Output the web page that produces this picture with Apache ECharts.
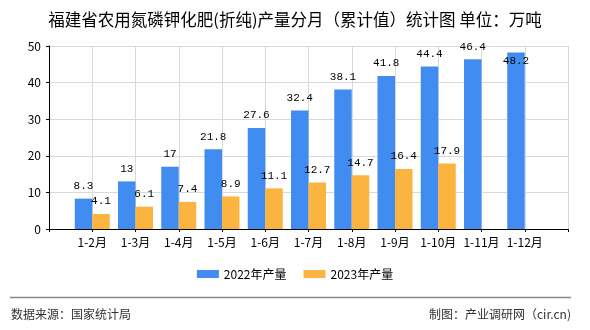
<!DOCTYPE html>
<html><head><meta charset="utf-8">
<script src="https://cdn.jsdelivr.net/npm/echarts@6/dist/echarts.min.js"></script>
<style>html,body{margin:0;padding:0;background:#fff}#c{width:590px;height:330px}</style>
</head><body><div id="c"></div>
<script>
var categories = ['1-2月','1-3月','1-4月','1-5月','1-6月','1-7月','1-8月','1-9月','1-10月','1-11月','1-12月'];
var values2022 = [8.3,13,17,21.8,27.6,32.4,38.1,41.8,44.4,46.4,48.2];
var values2023 = [4.1,6.1,7.4,8.9,11.1,12.7,14.7,16.4,17.9,null,null];
var yTicks = [0,10,20,30,40,50];
var seriesNames = ['2022年产量','2023年产量'];

var axisCats = [''].concat(categories).concat(['']);
function pad(a){ return [null].concat(a).concat([null]); }
var d22 = pad(values2022).map(function(v,i){
  if (i === categories.length) return {value:v, label:{position:'insideTop', distance:3}};
  return v;
});
var d23 = pad(values2023);
var cjk = '"Noto Sans CJK SC", sans-serif';
var lblFont = {show:true, position:'top', distance:7, color:'#000', fontSize:11, fontFamily:'"Liberation Mono", monospace'};

var chart = echarts.init(document.getElementById('c'));
chart.setOption({
  animation:false,
  backgroundColor:'#fff',
  title:{text:'福建省农用氮磷钾化肥(折纯)产量分月（累计值）统计图 单位：万吨', left:'center', top:6,
    textStyle:{fontSize:16.5, fontWeight:'normal', color:'#000', fontFamily:cjk}},
  legend:{bottom:45, left:'center', itemWidth:22, itemHeight:8, itemGap:17, icon:'rect',
    textStyle:{fontSize:12, color:'#000', fontFamily:cjk}, data:seriesNames},
  grid:{left:49, right:22, top:46, bottom:101, containLabel:false},
  xAxis:{type:'category', data:axisCats, boundaryGap:false,
    axisLine:{lineStyle:{color:'#000'}},
    axisTick:{show:true, length:3, lineStyle:{color:'#000'}},
    axisLabel:{interval:0, margin:7, color:'#000', fontSize:12, fontFamily:cjk},
    splitLine:{show:true, lineStyle:{color:'#d9d9d9'}}},
  yAxis:{type:'value', min:yTicks[0], max:yTicks[yTicks.length-1], interval:10,
    axisLine:{show:true, lineStyle:{color:'#000'}},
    axisTick:{show:true, length:3, lineStyle:{color:'#000'}},
    axisLabel:{margin:8, color:'#000', fontSize:12, fontFamily:cjk},
    splitLine:{show:true, lineStyle:{color:'#d9d9d9'}}},
  series:[
    {name:seriesNames[0], type:'bar', data:d22, barWidth:17.5, barGap:'0%', itemStyle:{color:'#418cf0'}, label:lblFont},
    {name:seriesNames[1], type:'bar', data:d23, barWidth:17.5, barGap:'0%', itemStyle:{color:'#fcb441'}, label:lblFont}
  ],
  graphic:[
    {type:'line', shape:{x1:10, y1:297.5, x2:571, y2:297.5}, style:{stroke:'#888', lineWidth:1.5}},
    {type:'text', left:11, top:308, style:{text:'数据来源：国家统计局', fill:'#333', font:'12px "Noto Sans CJK SC"'}},
    {type:'text', right:19, top:308, style:{text:'制图：产业调研网（cir.cn)', fill:'#333', font:'12px "Noto Sans CJK SC"'}}
  ]
});
</script></body></html>
